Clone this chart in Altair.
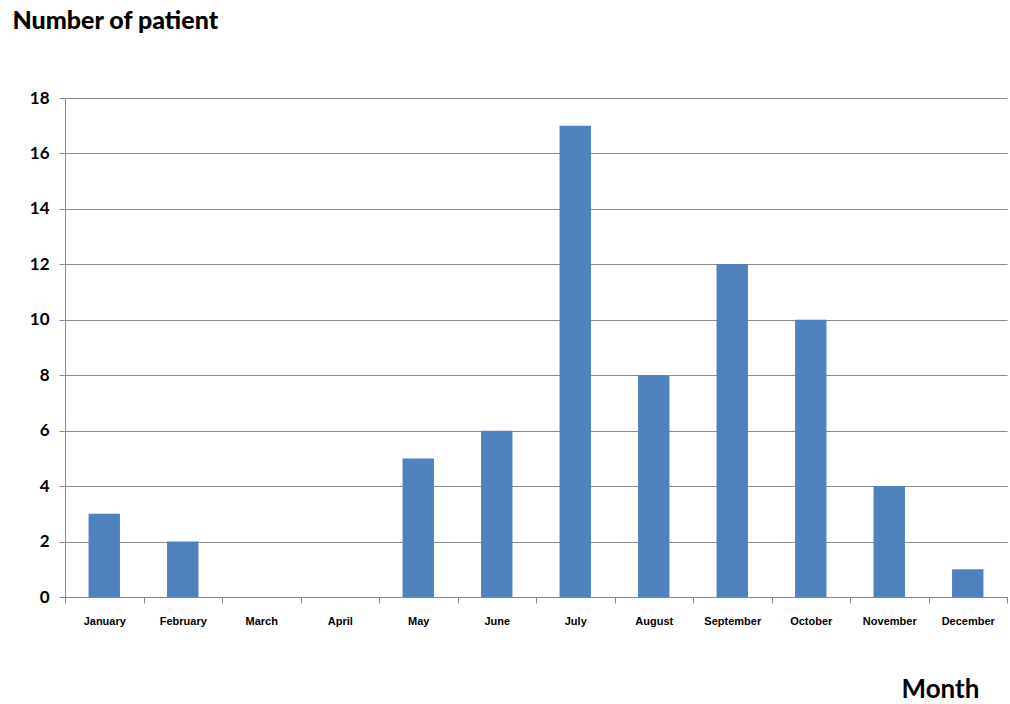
import altair as alt
import pandas as pd

months = ["January", "February", "March", "April", "May", "June", "July",
          "August", "September", "October", "November", "December"]
patients = [3, 2, 0, 0, 5, 6, 17, 8, 12, 10, 4, 1]

df = pd.DataFrame({"Month": months, "Patients": patients})

chart = alt.Chart(df).mark_bar(color="#4F81BD", width=alt.RelativeBandSize(0.4)).encode(
    x=alt.X("Month:N", sort=months,
            scale=alt.Scale(paddingInner=0, paddingOuter=0),
            axis=alt.Axis(title="Month", labelAngle=0, labelFont="Liberation Sans",
                          labelFontWeight="bold", labelFontSize=11, labelColor="#000",
                          labelPadding=12, tickBand="extent", tickSize=6,
                          tickColor="#888", domainColor="#888",
                          titleFont="Lato", titleFontSize=26, titleFontWeight="bold",
                          titleColor="#000", titleX=836, titleY=100,
                          titleAlign="left", titleBaseline="alphabetic")),
    y=alt.Y("Patients:Q", scale=alt.Scale(domain=[0, 18], nice=False),
            axis=alt.Axis(title="Number of patient", values=list(range(0, 19, 2)),
                          labelFont="Lato", labelFontWeight="bold", labelFontSize=17,
                          labelColor="#000", labelPadding=10, tickSize=6,
                          tickColor="#888", domainColor="#888", gridColor="#8c8c8c",
                          titleFont="Lato", titleFontSize=25, titleFontWeight=900,
                          titleColor="#000", titleAngle=0, titleX=-53, titleY=-70,
                          titleAlign="left", titleBaseline="alphabetic")),
).properties(
    width=942, height=499,
    autosize=alt.AutoSizeParams(type="none"),
    padding={"left": 65, "top": 98, "right": 3, "bottom": 107},
).configure_view(stroke=None)

chart.save("out.html", embed_options={"renderer": "svg", "actions": False})
